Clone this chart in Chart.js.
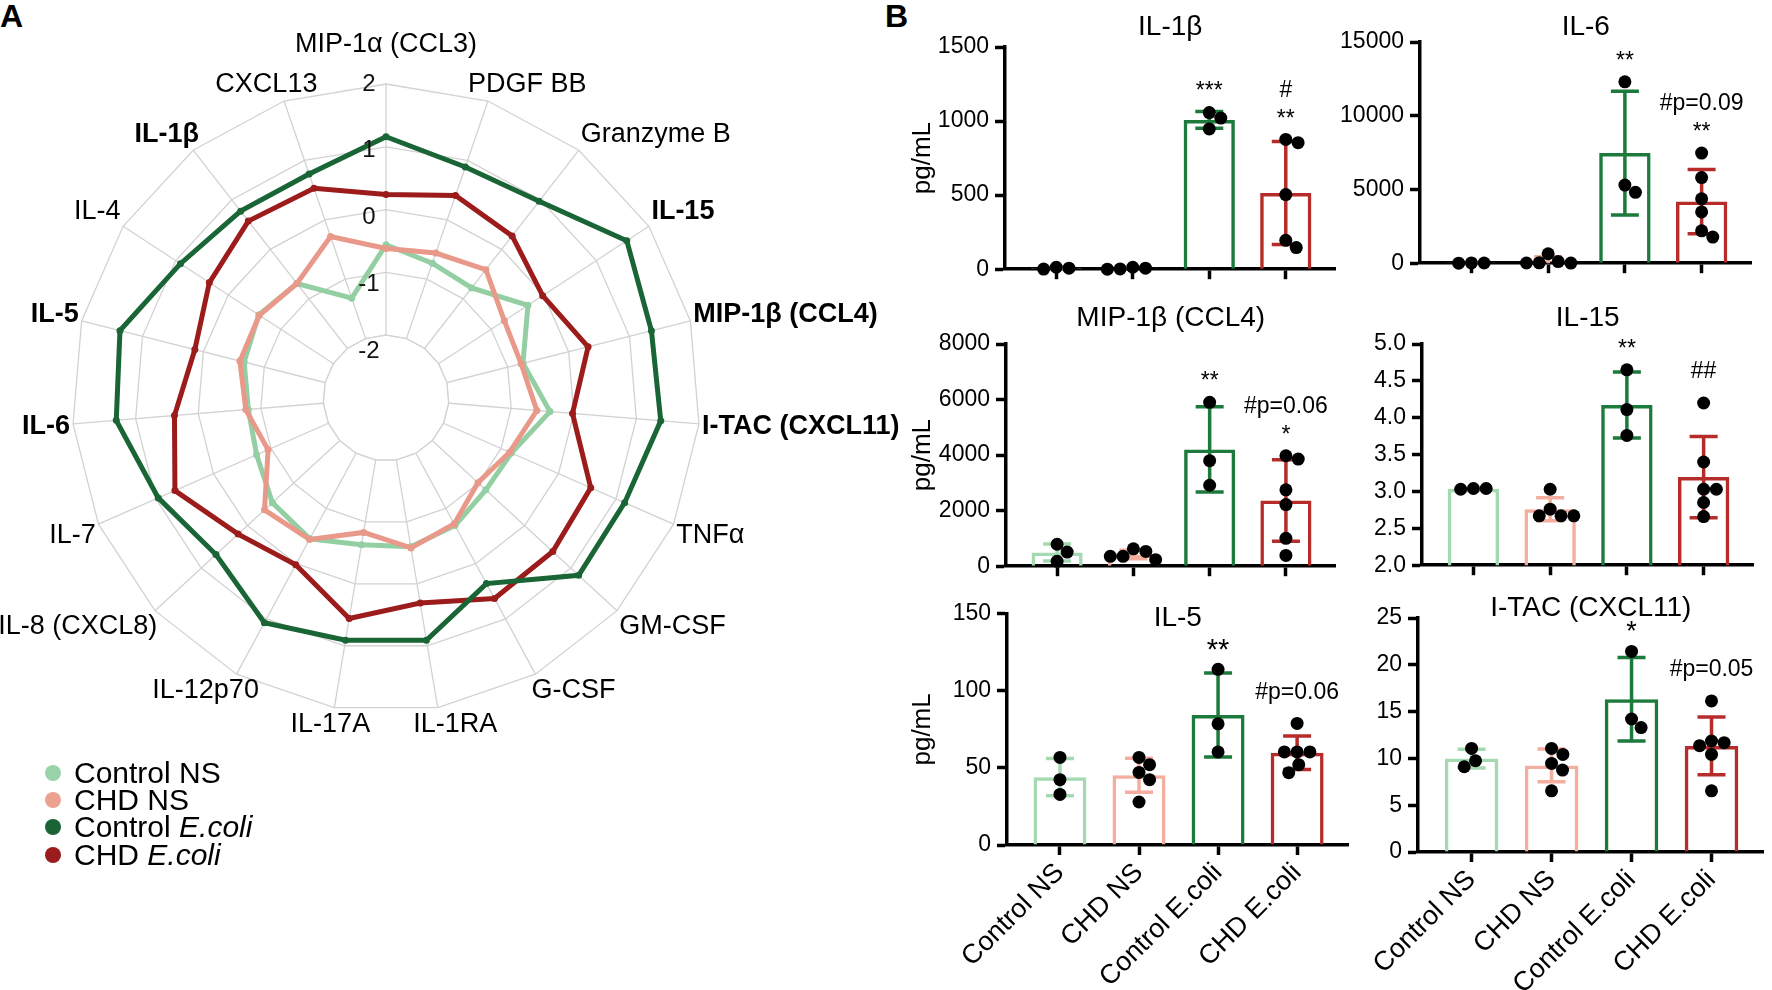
<!DOCTYPE html>
<html>
<head>
<meta charset="utf-8">
<script src="https://cdn.jsdelivr.net/npm/chart.js@4.4.1/dist/chart.umd.min.js"></script>
<style>
html,body{margin:0;padding:0;background:#fff;}
body{width:1772px;height:990px;position:relative;overflow:hidden;font-family:'Liberation Sans',Arial,Helvetica,sans-serif;color:#000;}
canvas{position:absolute;}
.panel{position:absolute;font-weight:bold;line-height:1;font-family:'Liberation Sans',Arial,sans-serif;}
#legend{position:absolute;left:45px;top:759px;font-size:30px;}
#legend .row{display:flex;align-items:center;height:27.3px;white-space:nowrap;}
#legend .dot{display:inline-block;width:16px;height:16px;border-radius:50%;margin-right:13px;flex:none;}
</style>
</head>
<body>
<div class="panel" style="left:0px;top:0px;font-size:32px;">A</div>
<div class="panel" style="left:885px;top:0px;font-size:32px;">B</div>
<canvas id="radar"></canvas>
<canvas id="c1"></canvas>
<canvas id="c2"></canvas>
<canvas id="c3"></canvas>
<canvas id="c4"></canvas>
<canvas id="c5"></canvas>
<canvas id="c6"></canvas>
<div id="legend">
  <div class="row"><span class="dot" style="background:#9ad3a9"></span><span>Control NS</span></div>
  <div class="row"><span class="dot" style="background:#eca291"></span><span>CHD NS</span></div>
  <div class="row"><span class="dot" style="background:#1a6334"></span><span>Control <i>E.coli</i></span></div>
  <div class="row"><span class="dot" style="background:#9a1c1d"></span><span>CHD <i>E.coli</i></span></div>
</div>
<script>
// ================= DATA =================
const radarLabels = ['MIP-1α (CCL3)', 'PDGF BB', 'Granzyme B', 'IL-15', 'MIP-1β (CCL4)', 'I-TAC (CXCL11)', 'TNFα', 'GM-CSF', 'G-CSF', 'IL-1RA', 'IL-17A', 'IL-12p70', 'IL-8 (CXCL8)', 'IL-7', 'IL-6', 'IL-5', 'IL-4', 'IL-1β', 'CXCL13'];
const radarBold = ['IL-15', 'MIP-1β (CCL4)', 'I-TAC (CXCL11)', 'IL-6', 'IL-5', 'IL-1β'];
const radarTicks = [-2, -1, 0, 1, 2];
const radarControlNS    = [-0.56, -0.73, -0.78, -0.30, -0.75, -0.38, -0.82, -0.84, -0.69, -0.60, -0.63, -0.45, -0.54, -0.75, -0.80, -0.67, -0.58, -0.69, -1.32];
const radarCHDNS        = [-0.62, -0.56, -0.41, -0.75, -0.78, -0.59, -0.85, -1.01, -0.72, -0.58, -0.83, -0.44, -0.37, -0.95, -0.76, -0.60, -0.59, -0.69, -0.28];
const radarControlEcoli = [1.16, 0.89, 0.97, 1.58, 1.36, 1.39, 1.15, 1.17, 0.36, 0.91, 0.91, 1.07, 0.68, 0.96, 1.31, 1.37, 0.91, 0.77, 0.77];
const radarCHDEcoli     = [0.24, 0.41, 0.27, -0.02, 0.32, -0.02, 0.56, 0.61, 0.63, 0.31, 0.56, 0.02, 0.20, 0.67, 0.38, 0.14, 0.36, 0.57, 0.53];

const groups = ['Control NS', 'CHD NS', 'Control E.coli', 'CHD E.coli'];

const il1bValues = [[13, 1, 7], [7, 0, 2, 13], [1057, 1020, 947], [854, 876, 504, 195, 146]];
const il1bTicks = [0, 500, 1000, 1500];
const il1bMarks = [[], [], ['***'], ['**', '#']];

const il6Values = [[20, 5, 15], [642, 15, 10, 25, 110], [12297, 4808, 5295], [7467, 5805, 4365, 3479, 2194, 1772]];
const il6Ticks = [0, 5000, 10000, 15000];
const il6Marks = [[], [], ['**'], ['**', '#p=0.09']];

const mip1bValues = [[790, 507, 177], [625, 354, 236, 354, 531], [5900, 3799, 2914], [3858, 3976, 2749, 2218, 1003, 389]];
const mip1bTicks = [0, 2000, 4000, 6000, 8000];
const mip1bMarks = [[], [], ['**'], ['*', '#p=0.06']];

const il15Values = [[3.03, 3.04, 3.04], [3.03, 2.76, 2.67, 2.67, 2.67], [4.65, 4.11, 3.76], [4.20, 3.40, 3.03, 3.03, 2.85, 2.66]];
const il15Ticks = [2.0, 2.5, 3.0, 3.5, 4.0, 4.5, 5.0];
const il15Marks = [[], [], ['**'], ['##']];

const il5Values = [[56.8, 42.4, 32.8], [56.8, 52.1, 47.1, 42.4, 27.9], [114, 78.6, 60.4], [78.9, 60.4, 60.4, 60.4, 52.1, 46.9]];
const il5Ticks = [0, 50, 100, 150];
const il5Marks = [[], [], ['**'], ['#p=0.06']];

const itacValues = [[11.07, 9.75, 9.11], [11.07, 10.43, 9.46, 8.75, 6.54], [21.43, 14.21, 13.29], [16.14, 11.36, 11.86, 11.68, 10.43, 6.54]];
const itacTicks = [0, 5, 10, 15, 20, 25];
const itacMarks = [[], [], ['*'], ['#p=0.05']];

// ================= STYLE =================
const FONT = "'Liberation Sans', Arial, Helvetica, sans-serif";
Chart.defaults.font.family = FONT;
Chart.defaults.color = '#000';
const GRID = '#d2d2d2';
const radarColors = { cns: '#93cfa3', chdns: '#e9998a', cec: '#1a6535', chdec: '#9c1c1c' };
const barColors = ['#a4d9b2', '#f3ae9f', '#1c7a3c', '#b52c2a'];

// ================= RADAR =================
const RAD = { cx: 386, cy: 398, R: 314, W: 915, H: 760 };
const radarCanvas = document.getElementById('radar');
radarCanvas.width = RAD.W; radarCanvas.height = RAD.H;
radarCanvas.style.left = '0px'; radarCanvas.style.top = '0px';
radarCanvas.style.width = RAD.W + 'px'; radarCanvas.style.height = RAD.H + 'px';

const radarDeco = {
  id: 'radarDeco',
  beforeDatasetsDraw(chart) {
    const s = chart.scales.r, ctx = chart.ctx;
    const r = s.getDistanceFromCenterForValue(radarTicks[0]);
    const n = chart.data.labels.length;
    ctx.save();
    ctx.beginPath();
    for (let i = 0; i < n; i++) {
      const p = s.getPointPosition(i, r);
      if (i) ctx.lineTo(p.x, p.y); else ctx.moveTo(p.x, p.y);
    }
    ctx.closePath();
    ctx.fillStyle = '#fff';
    ctx.fill();
    ctx.strokeStyle = GRID; ctx.lineWidth = 1.3;
    ctx.stroke();
    ctx.restore();
  },
  afterDraw(chart) {
    const s = chart.scales.r, ctx = chart.ctx;
    ctx.save();
    ctx.fillStyle = '#000';
    chart.data.labels.forEach((lab, i) => {
      const ang = s.getIndexAngle(i);
      const sn = Math.sin(ang), cs = Math.cos(ang);
      const pad = i === 0 ? 26 : 3;
      const p = s.getPointPosition(i, s.drawingArea + pad);
      ctx.font = (radarBold.includes(lab) ? 'bold ' : '') + '27px ' + FONT;
      const w = ctx.measureText(lab).width;
      const h = 27;
      const f = Math.abs(sn) < 0.01 ? 0.5 : Math.min(1, Math.max(0, 0.42 - 0.75 * sn));
      const g = Math.min(1, Math.max(0, 0.5 + 0.9 * cs));
      ctx.textAlign = 'left';
      ctx.textBaseline = 'middle';
      ctx.fillText(lab, p.x - f * w, p.y - g * h + h / 2);
    });
    ctx.font = '24px ' + FONT;
    ctx.textAlign = 'center';
    ctx.textBaseline = 'middle';
    ctx.fillStyle = '#111';
    radarTicks.forEach(v => {
      const d = s.getDistanceFromCenterForValue(v);
      ctx.fillText(String(v), s.xCenter - 17, s.yCenter - d + (2 - v) * 4);
    });
    ctx.restore();
  }
};

new Chart(radarCanvas, {
  type: 'radar',
  data: {
    labels: radarLabels,
    datasets: [
      { label: 'Control NS', data: radarControlNS, borderColor: radarColors.cns, pointBackgroundColor: radarColors.cns, order: 3 },
      { label: 'CHD NS', data: radarCHDNS, borderColor: radarColors.chdns, pointBackgroundColor: radarColors.chdns, order: 2 },
      { label: 'Control E.coli', data: radarControlEcoli, borderColor: radarColors.cec, pointBackgroundColor: radarColors.cec, order: 0 },
      { label: 'CHD E.coli', data: radarCHDEcoli, borderColor: radarColors.chdec, pointBackgroundColor: radarColors.chdec, order: 1 }
    ]
  },
  options: {
    responsive: false,
    animation: false,
    layout: { padding: { left: RAD.cx - RAD.R, top: RAD.cy - RAD.R, right: RAD.W - (RAD.cx + RAD.R), bottom: RAD.H - (RAD.cy + RAD.R) } },
    plugins: { legend: { display: false }, tooltip: { enabled: false } },
    elements: {
      line: { borderWidth: 5, tension: 0, fill: false, backgroundColor: 'rgba(0,0,0,0)' },
      point: { radius: 3.5, borderWidth: 0, hoverRadius: 3.5 }
    },
    scales: {
      r: {
        min: -3, max: 2,
        ticks: { display: false, stepSize: 1 },
        pointLabels: { display: false },
        grid: { color: GRID, lineWidth: 1.3 },
        angleLines: { color: GRID, lineWidth: 1.3 }
      }
    }
  },
  plugins: [radarDeco]
});

// ================= BAR PANELS =================
function swarm(ys, d) {
  const placed = [], out = new Array(ys.length);
  const order = ys.map((_, i) => i).sort((a, b) => ys[b] - ys[a]);
  for (const i of order) {
    const y = ys[i];
    const cands = [0];
    placed.forEach(p => {
      const dy = Math.abs(p.y - y);
      if (dy < d) { const dx = Math.sqrt(d * d - dy * dy); cands.push(p.x + dx, p.x - dx); }
    });
    cands.sort((a, b) => (Math.round(Math.abs(a) * 1000) - Math.round(Math.abs(b) * 1000)) || (b - a));
    const x = cands.find(c => placed.every(p => Math.hypot(p.x - c, p.y - y) >= d - 1e-6));
    placed.push({ x, y }); out[i] = x;
  }
  return out;
}

const XMIN = -0.67, XMAX = 3.65;

function barPanel(id, title, values, ticks, marks, geo, opt) {
  const canvas = document.getElementById(id);
  const left = geo.L - geo.yW, top = geo.titleY - 22;
  const W = geo.R - left, H = geo.B + geo.xH - top;
  canvas.width = W; canvas.height = H;
  canvas.style.left = left + 'px'; canvas.style.top = top + 'px';
  canvas.style.width = W + 'px'; canvas.style.height = H + 'px';

  const yMin = ticks[0], yMax = ticks[ticks.length - 1];
  const means = values.map(a => a.reduce((s, v) => s + v, 0) / a.length);
  const sds = values.map((a, i) => Math.sqrt(a.reduce((s, v) => s + (v - means[i]) ** 2, 0) / (a.length - 1)));
  const pxX = (geo.R - geo.L) / (XMAX - XMIN);
  const pxY = (geo.B - geo.T) / (yMax - yMin);
  const pts = [];
  values.forEach((arr, g) => {
    const offs = swarm(arr.map(v => (v - yMin) * pxY), 13);
    arr.forEach((v, k) => pts.push({ x: g + offs[k] / pxX, y: v }));
  });

  const deco = {
    id: 'deco_' + id,
    afterDatasetDraw(chart, args) {
      if (args.index !== 0) return;
      const ctx = chart.ctx, xs = chart.scales.x, ys = chart.scales.y;
      ctx.save();
      ctx.lineWidth = 3.5;
      means.forEach((m, i) => {
        const x = xs.getPixelForValue(i);
        const hi = ys.getPixelForValue(m + sds[i]);
        const loV = m - sds[i];
        const lo = ys.getPixelForValue(Math.max(loV, yMin));
        ctx.strokeStyle = barColors[i];
        ctx.beginPath();
        ctx.moveTo(x, lo); ctx.lineTo(x, hi);
        ctx.moveTo(x - 14, hi); ctx.lineTo(x + 14, hi);
        if (loV > yMin) { ctx.moveTo(x - 14, lo); ctx.lineTo(x + 14, lo); }
        ctx.stroke();
      });
      ctx.restore();
    },
    afterDraw(chart) {
      const ctx = chart.ctx, xs = chart.scales.x, ys = chart.scales.y;
      ctx.save();
      ctx.fillStyle = '#000';
      ctx.textAlign = 'center';
      ctx.textBaseline = 'alphabetic';
      marks.forEach((lines, i) => {
        if (!lines.length) return;
        const topV = Math.max(means[i] + sds[i], ...values[i]);
        let yc = ys.getPixelForValue(topV);
        const x = xs.getPixelForValue(i);
        lines.forEach((t, k) => {
          const star = t[0] === '*';
          yc -= k === 0 ? (star ? 27 : 33) : 24;
          const size = star ? opt.starSize : 23;
          ctx.font = size + 'px ' + FONT;
          ctx.fillText(t, x, yc + (star ? 0.57 : 0.36) * size);
        });
      });
      ctx.restore();
    }
  };

  new Chart(canvas, {
    type: 'bar',
    data: {
      datasets: [
        {
          type: 'bar',
          data: means.map((m, i) => ({ x: i, y: m })),
          borderColor: barColors,
          backgroundColor: 'rgba(255,255,255,0)',
          borderWidth: 3.5,
          borderSkipped: 'start',
          barPercentage: 0.67,
          categoryPercentage: 1,
          order: 2,
          clip: { left: false, right: false, top: false, bottom: 0 }
        },
        {
          type: 'scatter',
          data: pts,
          pointRadius: 6.5,
          pointHoverRadius: 6.5,
          pointBackgroundColor: '#000',
          pointBorderWidth: 0,
          order: 1,
          clip: false
        }
      ]
    },
    options: {
      responsive: false,
      animation: false,
      layout: { padding: 0 },
      plugins: {
        legend: { display: false },
        tooltip: { enabled: false },
        title: {
          display: true, text: title, fullSize: false, color: '#000',
          font: { family: FONT, size: 28, weight: 'normal', lineHeight: 1 },
          padding: { top: 8, bottom: geo.T - geo.titleY - 14 }
        }
      },
      scales: {
        x: {
          type: 'linear', min: XMIN, max: XMAX, offset: false,
          afterBuildTicks: s => { s.ticks = groups.map((g, i) => ({ value: i })); },
          afterFit: s => { s.height = geo.xH; },
          grid: { display: true, offset: false, drawOnChartArea: false, drawTicks: true, tickLength: 10, tickWidth: 3.5, tickColor: '#000', color: '#000' },
          border: { display: true, color: '#000', width: 3.5 },
          ticks: {
            display: opt.xLabels, autoSkip: false, minRotation: 45, maxRotation: 45, padding: 2,
            color: '#000', font: { family: FONT, size: 27 },
            callback: v => (groups[v] !== undefined ? groups[v] : '')
          }
        },
        y: {
          type: 'linear', min: yMin, max: yMax,
          afterBuildTicks: s => { s.ticks = ticks.map(v => ({ value: v })); },
          afterFit: s => { s.width = geo.yW; },
          grid: { display: true, drawOnChartArea: false, drawTicks: true, tickLength: 10, tickWidth: 3.5, tickColor: '#000', color: '#000' },
          border: { display: true, color: '#000', width: 3.5 },
          ticks: {
            color: '#000', padding: 6, font: { family: FONT, size: 23 },
            callback: v => (opt.decimals ? Number(v).toFixed(opt.decimals) : String(v))
          },
          title: { display: opt.yTitle, text: 'pg/mL', color: '#000', font: { family: FONT, size: 26 }, padding: 0 }
        }
      }
    },
    plugins: [deco]
  });
}

barPanel('c1', 'IL-1β', il1bValues, il1bTicks, il1bMarks,
  { L: 1005, R: 1342, T: 47, B: 273, titleY: 27, yW: 98, xH: 16 },
  { yTitle: true, xLabels: false, starSize: 23, decimals: 0 });
barPanel('c2', 'IL-6', il6Values, il6Ticks, il6Marks,
  { L: 1420, R: 1758, T: 42, B: 267, titleY: 27, yW: 90, xH: 16 },
  { yTitle: false, xLabels: false, starSize: 23, decimals: 0 });
barPanel('c3', 'MIP-1β (CCL4)', mip1bValues, mip1bTicks, mip1bMarks,
  { L: 1006, R: 1342, T: 344, B: 570, titleY: 318, yW: 99, xH: 16 },
  { yTitle: true, xLabels: false, starSize: 23, decimals: 0 });
barPanel('c4', 'IL-15', il15Values, il15Ticks, il15Marks,
  { L: 1422, R: 1760, T: 344, B: 569, titleY: 318, yW: 90, xH: 16 },
  { yTitle: false, xLabels: false, starSize: 23, decimals: 1 });
barPanel('c5', 'IL-5', il5Values, il5Ticks, il5Marks,
  { L: 1007, R: 1355, T: 612, B: 845, titleY: 616, yW: 100, xH: 145 },
  { yTitle: true, xLabels: true, starSize: 29, decimals: 0 });
barPanel('c6', 'I-TAC (CXCL11)', itacValues, itacTicks, itacMarks,
  { L: 1418, R: 1770, T: 618, B: 852, titleY: 608, yW: 90, xH: 138 },
  { yTitle: false, xLabels: true, starSize: 27, decimals: 0 });
</script>
</body>
</html>
